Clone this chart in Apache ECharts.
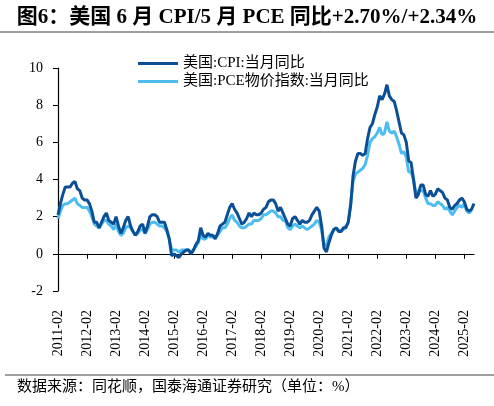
<!DOCTYPE html>
<html><head><meta charset="utf-8">
<script src="https://cdn.jsdelivr.net/npm/echarts@6/dist/echarts.min.js"></script>
<style>html,body{margin:0;padding:0;background:#fff}#c{width:494px;height:406px}</style>
</head><body><div id="c"></div>
<script>
// Monthly categories 2011-02 .. 2025-06
const categories = [];
for (let y = 2011; y <= 2025; y++) {
  for (let m = 1; m <= 12; m++) {
    if (y === 2011 && m < 2) continue;
    if (y === 2025 && m > 6) continue;
    categories.push(y + '-' + (m < 10 ? '0' + m : m));
  }
}
const cpi = [
  2.1, 2.7, 3.2, 3.6, 3.6, 3.6, 3.8, 3.9, 3.5, 3.4, 3.0,
  2.9, 2.9, 2.7, 2.3, 1.7, 1.7, 1.4, 1.7, 2.0, 2.2, 1.8, 1.7,
  1.6, 2.0, 1.5, 1.1, 1.4, 1.8, 2.0, 1.5, 1.2, 1.0, 1.2, 1.5,
  1.6, 1.1, 1.5, 2.0, 2.1, 2.1, 2.0, 1.7, 1.7, 1.7, 1.3, 0.8,
  -0.1, 0.0, -0.1, -0.2, 0.0, 0.1, 0.2, 0.2, 0.0, 0.2, 0.5, 0.7,
  1.4, 1.0, 0.9, 1.1, 1.0, 1.0, 0.8, 1.1, 1.5, 1.6, 1.7, 2.1,
  2.5, 2.7, 2.4, 2.2, 1.9, 1.6, 1.7, 1.9, 2.2, 2.0, 2.2, 2.1,
  2.1, 2.2, 2.4, 2.5, 2.8, 2.9, 2.9, 2.7, 2.3, 2.5, 2.2, 1.9,
  1.6, 1.5, 1.9, 2.0, 1.8, 1.6, 1.8, 1.7, 1.7, 1.8, 2.1, 2.3,
  2.5, 2.3, 1.5, 0.3, 0.1, 0.6, 1.0, 1.3, 1.4, 1.2, 1.2, 1.4,
  1.4, 1.7, 2.6, 4.2, 5.0, 5.4, 5.4, 5.3, 5.4, 6.2, 6.8, 7.0,
  7.5, 7.9, 8.5, 8.3, 8.6, 9.1, 8.5, 8.3, 8.2, 7.7, 7.1, 6.5,
  6.4, 6.0, 5.0, 4.9, 4.0, 3.0, 3.2, 3.7, 3.7, 3.2, 3.1, 3.4,
  3.1, 3.2, 3.5, 3.4, 3.3, 3.0, 2.9, 2.5, 2.4, 2.6, 2.7, 2.9,
  3.0, 2.8, 2.4, 2.3, 2.4, 2.7
];
const pce = [
  1.9, 2.3, 2.6, 2.7, 2.7, 2.8, 2.9, 3.0, 2.7, 2.6, 2.5,
  2.5, 2.5, 2.3, 2.0, 1.6, 1.5, 1.4, 1.6, 1.8, 1.8, 1.6, 1.5,
  1.3, 1.6, 1.2, 1.0, 1.1, 1.4, 1.5, 1.4, 1.2, 1.0, 1.1, 1.3,
  1.3, 1.1, 1.3, 1.6, 1.7, 1.7, 1.6, 1.5, 1.5, 1.4, 1.2, 0.8,
  0.2, 0.2, 0.2, 0.1, 0.2, 0.2, 0.2, 0.2, 0.1, 0.2, 0.4, 0.6,
  1.0, 0.8, 0.8, 1.0, 0.9, 0.9, 0.9, 1.0, 1.2, 1.4, 1.4, 1.6,
  1.9, 2.1, 1.8, 1.7, 1.5, 1.4, 1.4, 1.5, 1.6, 1.6, 1.8, 1.8,
  1.8, 1.9, 2.1, 2.1, 2.2, 2.3, 2.3, 2.2, 2.0, 2.0, 1.8, 1.8,
  1.4, 1.3, 1.5, 1.6, 1.5, 1.4, 1.5, 1.4, 1.3, 1.4, 1.5, 1.6,
  1.8, 1.7, 1.3, 0.4, 0.5, 0.9, 1.1, 1.3, 1.4, 1.3, 1.2, 1.3,
  1.5, 1.7, 2.7, 3.9, 4.3, 4.4, 4.5, 4.6, 4.8, 5.3, 6.0, 6.2,
  6.3, 6.5, 6.8, 6.4, 6.5, 7.1, 6.6, 6.5, 6.6, 6.3, 5.9, 5.4,
  5.5, 5.2, 4.4, 4.4, 4.0, 3.2, 3.4, 3.4, 3.4, 3.0, 2.7, 2.7,
  2.6, 2.6, 2.8, 2.7, 2.6, 2.4, 2.5, 2.3, 2.1, 2.3, 2.5, 2.6,
  2.5, 2.7, 2.3, 2.2, 2.34, null
];
const seriesNames = ['美国:CPI:当月同比', '美国:PCE物价指数:当月同比'];
const titleText = '图6：美国 6 月 CPI/5 月 PCE 同比+2.70%/+2.34%';
const sourceText = '数据来源：同花顺，国泰海通证券研究（单位：%）';
const yTicks = { min: -2, max: 10, interval: 2 };

const FONT = '"Liberation Serif", "Noto Sans CJK SC", serif';
const chart = echarts.init(document.getElementById('c'), null, { renderer: 'canvas' });
chart.setOption({
  animation: false,
  backgroundColor: '#fff',
  title: {
    text: titleText, left: 'center', top: 2,
    textStyle: { fontFamily: FONT, fontSize: 21, fontWeight: 'bold', color: '#000' }
  },
  graphic: [
    { type: 'line', shape: { x1: 0, y1: 32, x2: 494, y2: 32 }, style: { stroke: '#7f7f7f', lineWidth: 1.5 } },
    { type: 'line', shape: { x1: 5, y1: 375, x2: 494, y2: 375 }, style: { stroke: '#7f7f7f', lineWidth: 1.5 } },
    { type: 'text', left: 17, top: 380, style: { text: sourceText, font: '15px ' + FONT, fill: '#000' } }
  ],
  legend: {
    orient: 'vertical', left: 133, top: 51, itemWidth: 40, itemHeight: 3, itemGap: 3,
    icon: 'rect',
    textStyle: { fontFamily: FONT, fontSize: 15, color: '#000' },
    data: seriesNames
  },
  grid: { left: 58, right: 20, top: 68, bottom: 115, containLabel: false },
  xAxis: [
    {
      type: 'category', data: categories, boundaryGap: false, position: 'bottom',
      axisLine: { onZero: true, lineStyle: { color: '#000', width: 1.2 } },
      axisTick: { interval: 11, length: 5, lineStyle: { color: '#000' } },
      axisLabel: { show: false }
    },
    {
      type: 'category', data: categories, boundaryGap: false, position: 'bottom',
      axisLine: { show: false, onZero: false }, axisTick: { show: false },
      axisLabel: { interval: 11, rotate: 90, margin: 19, fontFamily: FONT, fontSize: 14, color: '#000' }
    }
  ],
  yAxis: {
    type: 'value', min: yTicks.min, max: yTicks.max, interval: yTicks.interval,
    splitLine: { show: false },
    axisLine: { show: true, lineStyle: { color: '#000', width: 1.2 } },
    axisTick: { show: true, length: 5, lineStyle: { color: '#000' } },
    axisLabel: { margin: 15, fontFamily: FONT, fontSize: 14, color: '#000' }
  },
  series: [
    { name: seriesNames[1], type: 'line', data: pce, showSymbol: false, symbol: 'none', z: 2,
      lineStyle: { color: '#4dbdf0', width: 3 }, itemStyle: { color: '#4dbdf0' } },
    { name: seriesNames[0], type: 'line', data: cpi, showSymbol: false, symbol: 'none', z: 3,
      lineStyle: { color: '#0b4f94', width: 3 }, itemStyle: { color: '#0b4f94' } }
  ]
});
</script></body></html>
